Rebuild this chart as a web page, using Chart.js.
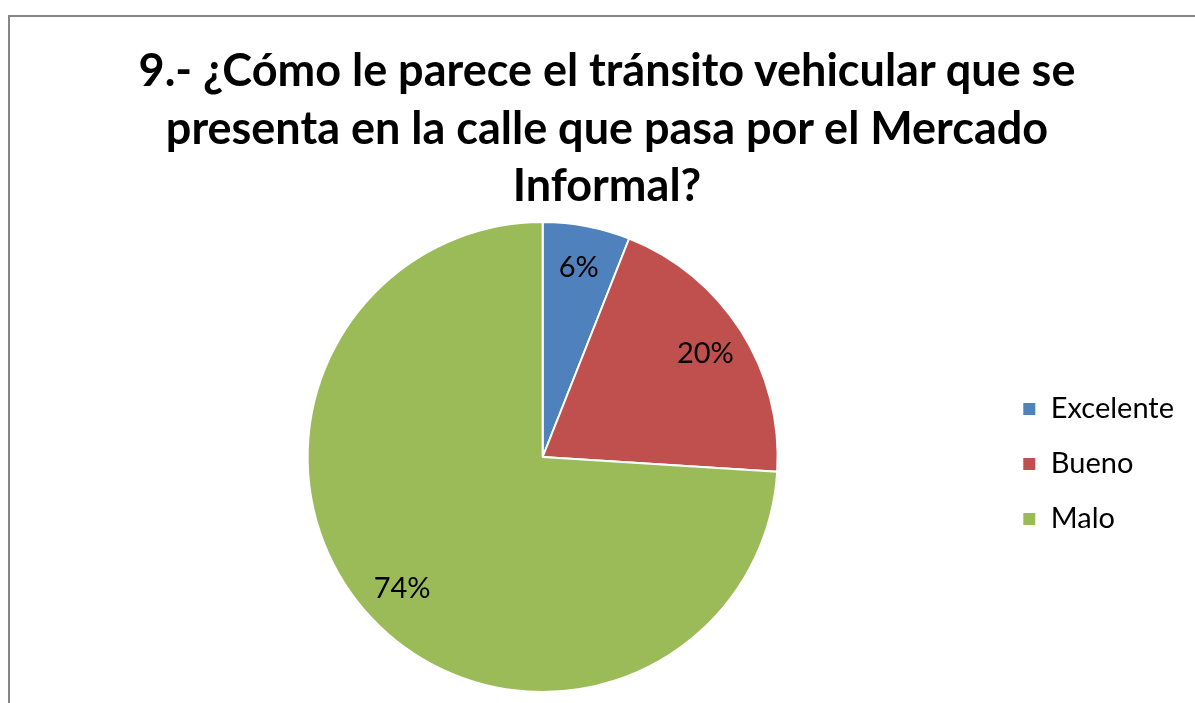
<!DOCTYPE html>
<html>
<head>
<meta charset="utf-8">
<script src="https://cdn.jsdelivr.net/npm/chart.js@4/dist/chart.umd.min.js"></script>
<style>
  html, body { margin: 0; padding: 0; background: #fff; overflow: hidden; }
  #box {
    position: absolute; left: 8px; top: 15px; width: 1198px; height: 700px;
    border-left: 2px solid #868686; border-top: 2px solid #868686;
    box-sizing: border-box; background: #fff;
  }
  #wrap { position: absolute; left: -2px; top: -2px; width: 1198px; height: 700px; }
  #title {
    position: absolute; left: 0; top: 41px; width: 1214px; margin: 0;
    text-align: center; font: bold 45px/57.5px Lato, "Open Sans", sans-serif; color: #000;
  }
</style>
</head>
<body>
<div id="box"><div id="wrap"><canvas id="chart"></canvas></div></div>
<h1 id="title"></h1>
<script>
const titleLines = [
  '9.- ¿Cómo le parece el tránsito vehicular que se',
  'presenta en la calle que pasa por el Mercado',
  'Informal?'
];
const categories = ['Excelente', 'Bueno', 'Malo'];
const percents = [6, 20, 74];
const colors = ['#4F81BD', '#C0504D', '#9BBB59'];

const FONT = 'Lato, "Open Sans", sans-serif';

const titleEl = document.getElementById('title');
titleLines.forEach((line, i) => {
  if (i) titleEl.appendChild(document.createElement('br'));
  titleEl.appendChild(document.createTextNode(line));
});

// percentage labels inside the slices
const sliceLabels = {
  id: 'sliceLabels',
  afterDatasetsDraw(chart) {
    const { ctx } = chart;
    const meta = chart.getDatasetMeta(0);
    ctx.save();
    ctx.font = '29px ' + FONT;
    ctx.fillStyle = '#000';
    ctx.textAlign = 'center';
    ctx.textBaseline = 'middle';
    meta.data.forEach((arc, i) => {
      const p = arc.getProps(['x', 'y', 'startAngle', 'endAngle', 'outerRadius'], true);
      const mid = (p.startAngle + p.endAngle) / 2;
      const r = p.outerRadius * 0.82;
      ctx.fillText(percents[i] + '%', p.x + Math.cos(mid) * r, p.y + Math.sin(mid) * r);
    });
    ctx.restore();
  }
};

new Chart(document.getElementById('chart'), {
  type: 'pie',
  data: {
    labels: categories,
    datasets: [{
      data: percents,
      backgroundColor: colors,
      borderColor: '#fff',
      borderWidth: 2
    }]
  },
  options: {
    responsive: true,
    maintainAspectRatio: false,
    animation: false,
    layout: { padding: { left: 81, right: 22, top: 206, bottom: 22 } },
    plugins: {
      title: { display: false },
      legend: {
        position: 'right',
        title: { display: true, text: '', font: { size: 1 }, padding: 6.5 },
        labels: {
          boxWidth: 14, boxHeight: 14, padding: 26,
          color: '#000',
          font: { family: FONT, size: 29 }
        }
      },
      tooltip: { enabled: false }
    }
  },
  plugins: [sliceLabels]
});
</script>
</body>
</html>
